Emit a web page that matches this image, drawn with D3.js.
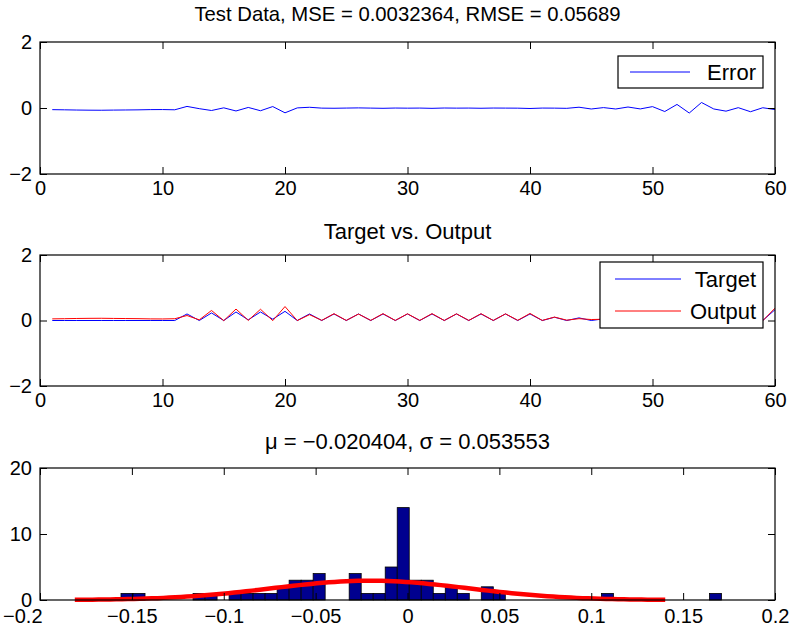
<!DOCTYPE html>
<html>
<head>
<meta charset="utf-8">
<script src="https://cdn.jsdelivr.net/npm/d3@7"></script>
<style>
  html, body { margin: 0; padding: 0; background: #fff; }
  svg text { font-family: "Liberation Sans", Arial, Helvetica, sans-serif; fill: #000; }
</style>
</head>
<body>
<svg id="fig" width="793" height="632"></svg>
<script>
// ---- data -------------------------------------------------------------
const sampleIndex = d3.range(1, 61);

const errorValues = [
  -0.050, -0.055, -0.062, -0.066, -0.068, -0.063, -0.060, -0.056, -0.049, -0.047,
  -0.054,  0.048, -0.020, -0.076,  0.005, -0.090,  0.017, -0.083,  0.044, -0.146,
   0.003,  0.022, -0.004, -0.008, -0.002,  0.003, -0.003, -0.009, -0.001, -0.005,
  -0.002, -0.010,  0.000, -0.004, -0.002, -0.008, -0.001, -0.003, -0.005, -0.015,
  -0.002, -0.004, -0.010,  0.024, -0.030,  0.012, -0.030,  0.030, -0.028,  0.042,
  -0.107,  0.108, -0.152,  0.167, -0.029, -0.096,  0.010, -0.113,  0.008, -0.048
];

const targetValues = [
  0, 0, 0, 0, 0, 0, 0, 0, 0, 0,
  0, 0.20, 0, 0.23, 0, 0.26, 0.02, 0.26, 0.04, 0.28,
  0, 0.20, 0, 0.20, 0, 0.20, 0, 0.20, 0, 0.20,
  0, 0.20, 0, 0.20, 0, 0.20, 0, 0.20, 0, 0.20,
  0, 0.10, 0, 0.08, 0, 0.05, 0, 0.04, 0, 0.04,
  0, 0.10, 0, 0.15, 0, 0, 0.02, 0, 0, 0.33
];

const outputValues = [
  0.050, 0.055, 0.062, 0.066, 0.068, 0.063, 0.060, 0.056, 0.049, 0.047,
  0.054, 0.152, 0.020, 0.306, -0.005, 0.350, 0.003, 0.343, -0.004, 0.426,
  -0.003, 0.178, 0.004, 0.208, 0.002, 0.197, 0.003, 0.209, 0.001, 0.205,
  0.002, 0.210, 0.000, 0.204, 0.002, 0.208, 0.001, 0.203, 0.005, 0.215,
  0.002, 0.104, 0.010, 0.056, 0.030, 0.038, 0.030, 0.010, 0.028, -0.002,
  0.107, -0.008, 0.152, -0.017, 0.029, 0.096, 0.010, 0.113, -0.008, 0.378
];

// error histogram: 50 equal bins between the smallest and largest error
const histBinStart = -0.15592;
const histBinWidth = 0.006536;
const histCounts = [
  1, 1, 0, 0, 0, 0, 1, 1, 0, 1,
  1, 1, 1, 2, 3, 3, 4, 0, 0, 4,
  1, 1, 5, 14, 3, 3, 1, 2, 1, 0,
  2, 1, 0, 0, 0, 0, 0, 0, 0, 0,
  1, 0, 0, 0, 0, 0, 0, 0, 0, 1
];

const mseValue = "0.0032364";
const rmseValue = "0.05689";
const muValue = -0.020404;
const sigmaValue = 0.053553;

const seqTicks = [0, 10, 20, 30, 40, 50, 60];
const signalTicks = [-2, 0, 2];
const histXTicks = [-0.2, -0.15, -0.1, -0.05, 0, 0.05, 0.1, 0.15, 0.2];
const histYTicks = [0, 10, 20];

// ---- layout -----------------------------------------------------------
const svg = d3.select("#fig");
const L = 40, R = 775;
const panels = [
  { top: 42,  bottom: 174, labelPad: 7 },
  { top: 255, bottom: 386, labelPad: 7 },
  { top: 468, bottom: 600, labelPad: 9 }
];
const FS_TICK = 20;
const FS_TEXT = 22;
const TICK = 7;
const minus = s => s.replace(/-/g, "\u2212");

function fmtNum(v) {
  return minus(String(+v.toFixed(4)));
}

function drawFrame(g, x, y, xTicks, yTicks, p) {
  const xb = g.append("g").attr("transform", `translate(0,${p.bottom})`)
    .call(d3.axisBottom(x).tickValues(xTicks).tickSize(-TICK).tickPadding(p.labelPad).tickFormat(fmtNum));
  const xt = g.append("g").attr("transform", `translate(0,${p.top})`)
    .call(d3.axisTop(x).tickValues(xTicks).tickSize(-TICK).tickFormat(""));
  const yl = g.append("g").attr("transform", `translate(${L},0)`)
    .call(d3.axisLeft(y).tickValues(yTicks).tickSize(-TICK).tickPadding(8).tickFormat(fmtNum));
  const yr = g.append("g").attr("transform", `translate(${R},0)`)
    .call(d3.axisRight(y).tickValues(yTicks).tickSize(-TICK).tickFormat(""));
  [xb, xt, yl, yr].forEach(a => {
    a.select(".domain").remove();
    a.selectAll("line").attr("stroke", "#000").attr("stroke-width", 1);
    a.selectAll("text").attr("font-size", FS_TICK).attr("font-family", null).attr("fill", "#000");
  });
  g.append("rect")
    .attr("x", L).attr("y", p.top)
    .attr("width", R - L).attr("height", p.bottom - p.top)
    .attr("fill", "none").attr("stroke", "#000").attr("stroke-width", 1.2);
  return xb;
}

function title(text, yBase, size) {
  svg.append("text").attr("x", (L + R) / 2).attr("y", yBase)
    .attr("text-anchor", "middle").attr("font-size", size || FS_TEXT).text(text);
}

function clip(id, p) {
  svg.append("clipPath").attr("id", id).append("rect")
    .attr("x", L).attr("y", p.top).attr("width", R - L).attr("height", p.bottom - p.top);
  return `url(#${id})`;
}

function legend(items, box) {
  const g = svg.append("g");
  g.append("rect").attr("x", box.x).attr("y", box.y)
    .attr("width", box.w).attr("height", box.h)
    .attr("fill", "#fff").attr("stroke", "#000").attr("stroke-width", 1.2);
  items.forEach((it, i) => {
    const cy = box.y + box.pad + i * box.row;
    g.append("line").attr("x1", box.x + box.lx1).attr("x2", box.x + box.lx2)
      .attr("y1", cy).attr("y2", cy).attr("stroke", it.color).attr("stroke-width", 1);
    g.append("text").attr("x", box.x + box.w - 7).attr("y", cy)
      .attr("dy", "0.35em").attr("text-anchor", "end").attr("font-size", FS_TEXT).text(it.label);
  });
}

// ---- panel 1: error ---------------------------------------------------
{
  const p = panels[0];
  const x = d3.scaleLinear().domain([0, 60]).range([L, R]);
  const y = d3.scaleLinear().domain([-2, 2]).range([p.bottom, p.top]);
  title(`Test Data, MSE = ${mseValue}, RMSE = ${rmseValue}`, 21, 20.3);
  const g = svg.append("g");
  g.append("path").datum(errorValues)
    .attr("clip-path", clip("c1", p))
    .attr("fill", "none").attr("stroke", "#0000ff").attr("stroke-width", 1)
    .attr("d", d3.line().x((d, i) => x(sampleIndex[i])).y(d => y(d)));
  drawFrame(g, x, y, seqTicks, signalTicks, p);
  legend([{ label: "Error", color: "#0000ff" }],
    { x: 618, y: 56, w: 145, h: 32, pad: 16, row: 32, lx1: 12, lx2: 72 });
}

// ---- panel 2: target vs output -----------------------------------------
{
  const p = panels[1];
  const x = d3.scaleLinear().domain([0, 60]).range([L, R]);
  const y = d3.scaleLinear().domain([-2, 2]).range([p.bottom, p.top]);
  title("Target vs. Output", 239);
  const g = svg.append("g");
  const cp = clip("c2", p);
  const line = d3.line().x((d, i) => x(sampleIndex[i])).y(d => y(d));
  g.append("path").datum(targetValues).attr("clip-path", cp)
    .attr("fill", "none").attr("stroke", "#0000ff").attr("stroke-width", 1).attr("d", line);
  g.append("path").datum(outputValues).attr("clip-path", cp)
    .attr("fill", "none").attr("stroke", "#ff0000").attr("stroke-width", 1).attr("d", line);
  drawFrame(g, x, y, seqTicks, signalTicks, p);
  legend([{ label: "Target", color: "#0000ff" }, { label: "Output", color: "#ff0000" }],
    { x: 600, y: 262, w: 163, h: 66, pad: 17, row: 32, lx1: 15, lx2: 81 });
}

// ---- panel 3: error histogram with normal fit ---------------------------
{
  const p = panels[2];
  const x = d3.scaleLinear().domain([-0.2, 0.2]).range([L, R]);
  const y = d3.scaleLinear().domain([0, 20]).range([p.bottom, p.top]);
  title(`\u03bc = ${minus(String(muValue))}, \u03c3 = ${sigmaValue}`, 449);
  const g = svg.append("g");
  const bins = histCounts.map((c, i) => ({
    x0: histBinStart + i * histBinWidth,
    x1: histBinStart + (i + 1) * histBinWidth,
    count: c
  })).filter(b => b.count > 0);
  g.selectAll("rect.bar").data(bins).join("rect").attr("class", "bar")
    .attr("x", d => x(d.x0)).attr("width", d => x(d.x1) - x(d.x0))
    .attr("y", d => y(d.count)).attr("height", d => y(0) - y(d.count))
    .attr("fill", "#00008f").attr("stroke", "#000").attr("stroke-width", 0.8);

  // fitted normal density scaled to the bin counts, over mu +/- 3 sigma
  const n = d3.sum(histCounts);
  const scale = n * histBinWidth / (sigmaValue * Math.sqrt(2 * Math.PI));
  const xs = d3.range(0, 101).map(k => muValue - 3 * sigmaValue + k * 6 * sigmaValue / 100);
  g.append("path").datum(xs)
    .attr("fill", "none").attr("stroke", "#ff0000").attr("stroke-width", 4.5)
    .attr("d", d3.line().x(v => x(v))
      .y(v => y(scale * Math.exp(-0.5 * ((v - muValue) / sigmaValue) ** 2))));
  const xb = drawFrame(g, x, y, histXTicks, histYTicks, p);
  // the leftmost label sits flush against the left axis, under the y labels
  xb.selectAll(".tick text").filter(d => d === histXTicks[0])
    .attr("text-anchor", "end").attr("x", 2);
}
</script>
</body>
</html>
